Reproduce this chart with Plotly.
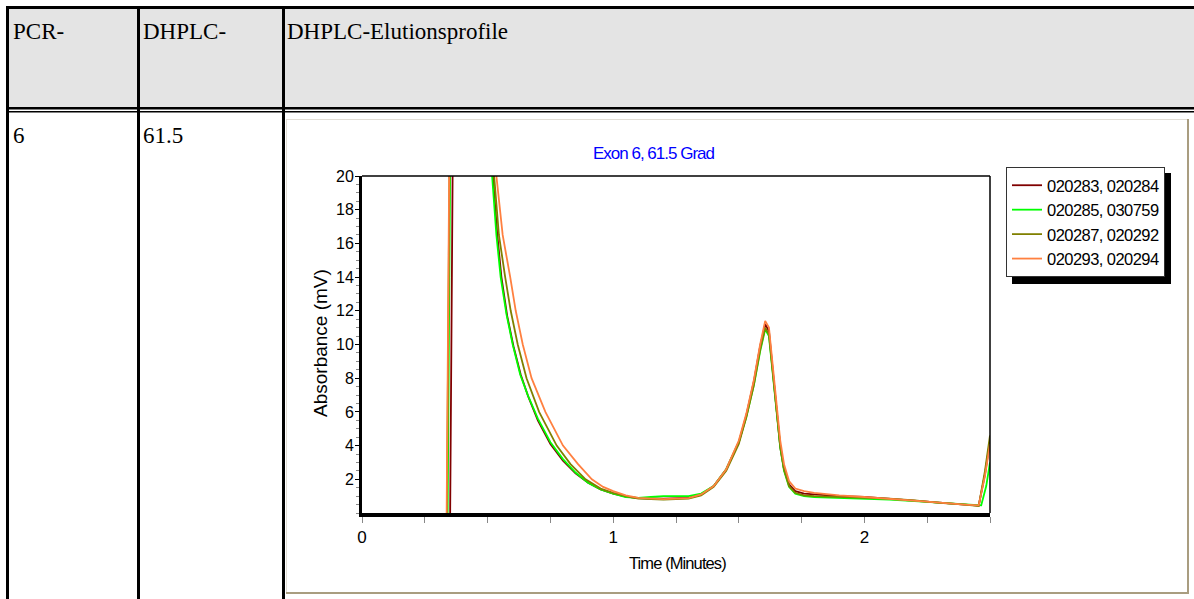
import plotly.graph_objects as go

# ---------------- data ----------------
names = ["020283, 020284", "020285, 030759", "020287, 020292", "020293, 020294"]
colors = ["#800000", "#00ff00", "#808000", "#ff8040"]

t_s1 = [0.351, 0.363, 0.380, 0.450, 0.495, 0.521, 0.538, 0.555, 0.578, 0.603, 0.632, 0.662, 0.700,
        0.750, 0.800, 0.850, 0.900, 0.950, 1.000, 1.050, 1.100, 1.200, 1.300, 1.350, 1.400, 1.450,
        1.500, 1.530, 1.560, 1.585, 1.605, 1.620, 1.635, 1.650, 1.665, 1.680, 1.700, 1.725, 1.760,
        1.800, 1.900, 2.000, 2.100, 2.200, 2.300, 2.400, 2.455, 2.480, 2.500]
v_s1 = [0.0, 24.0, 60.0, 60.0, 25.5, 20.0, 16.6, 14.0, 11.7, 9.9, 8.2, 6.9, 5.5,
        4.1, 3.1, 2.35, 1.8, 1.4, 1.15, 0.98, 0.88, 0.85, 0.9, 1.1, 1.6, 2.6,
        4.2, 5.8, 7.8, 9.9, 11.2, 10.8, 8.6, 6.1, 3.9, 2.6, 1.7, 1.3, 1.15,
        1.1, 1.0, 0.95, 0.85, 0.75, 0.62, 0.5, 0.44, 2.3, 4.3]

t_s2 = [0.341, 0.353, 0.370, 0.450, 0.490, 0.518, 0.535, 0.552, 0.575, 0.600, 0.630, 0.660, 0.700,
        0.750, 0.800, 0.850, 0.900, 0.950, 1.000, 1.050, 1.100, 1.150, 1.200, 1.250, 1.300, 1.350,
        1.400, 1.450, 1.500, 1.530, 1.560, 1.585, 1.605, 1.620, 1.635, 1.650, 1.665, 1.680, 1.700,
        1.725, 1.760, 1.800, 1.900, 2.000, 2.100, 2.200, 2.300, 2.400, 2.465, 2.485, 2.500]
v_s2 = [0.0, 24.0, 60.0, 60.0, 25.5, 20.0, 16.5, 14.0, 11.8, 10.0, 8.2, 7.0, 5.6,
        4.2, 3.2, 2.4, 1.8, 1.4, 1.15, 0.95, 0.9, 0.95, 1.0, 1.0, 1.0, 1.15,
        1.6, 2.6, 4.2, 5.7, 7.6, 9.6, 10.9, 10.5, 8.4, 6.0, 3.9, 2.5, 1.55,
        1.15, 1.0, 0.95, 0.9, 0.85, 0.8, 0.7, 0.6, 0.5, 0.45, 1.6, 3.0]

t_s3 = [0.338, 0.350, 0.368, 0.450, 0.498, 0.526, 0.545, 0.570, 0.592, 0.620, 0.655, 0.705, 0.775,
        0.830, 0.890, 0.950, 1.000, 1.050, 1.100, 1.200, 1.300, 1.350, 1.400, 1.450, 1.500, 1.530,
        1.560, 1.585, 1.605, 1.620, 1.635, 1.650, 1.665, 1.680, 1.700, 1.725, 1.760, 1.800, 1.900,
        2.000, 2.100, 2.200, 2.300, 2.400, 2.455, 2.480, 2.500]
v_s3 = [0.0, 24.0, 60.0, 60.0, 25.5, 20.0, 16.5, 14.0, 12.0, 10.0, 8.0, 6.0, 4.0,
        2.9, 2.0, 1.45, 1.2, 1.0, 0.85, 0.8, 0.85, 1.05, 1.55, 2.5, 4.1, 5.7,
        7.6, 9.7, 11.0, 10.6, 8.5, 6.1, 4.0, 2.6, 1.6, 1.2, 1.05, 1.0, 0.95,
        0.9, 0.85, 0.75, 0.6, 0.5, 0.42, 2.5, 4.6]

t_s4 = [0.337, 0.349, 0.367, 0.450, 0.510, 0.535, 0.560, 0.590, 0.612, 0.640, 0.675, 0.730, 0.800,
        0.860, 0.915, 0.960, 1.000, 1.050, 1.100, 1.200, 1.300, 1.350, 1.400, 1.450, 1.500, 1.530,
        1.560, 1.585, 1.605, 1.620, 1.635, 1.650, 1.665, 1.680, 1.700, 1.725, 1.760, 1.800, 1.900,
        2.000, 2.100, 2.200, 2.300, 2.400, 2.455, 2.480, 2.500]
v_s4 = [0.0, 24.0, 60.0, 60.0, 25.5, 20.0, 16.5, 14.0, 12.0, 10.0, 8.0, 6.0, 4.0,
        2.9, 2.0, 1.55, 1.3, 1.05, 0.9, 0.82, 0.88, 1.1, 1.6, 2.6, 4.3, 5.9,
        7.9, 10.0, 11.4, 11.0, 8.9, 6.5, 4.3, 2.9, 1.9, 1.45, 1.3, 1.2, 1.05,
        0.95, 0.85, 0.75, 0.62, 0.5, 0.45, 2.2, 4.1]

x_tickvals = [0, 1, 2]
y_tickvals = [2, 4, 6, 8, 10, 12, 14, 16, 18, 20]

header_texts = ["PCR-", "DHPLC-", "DHPLC-Elutionsprofile"]
row_texts = ["6", "61.5"]
chart_title = "Exon 6, 61.5 Grad"
x_title = "Time (Minutes)"
y_title = "Absorbance (mV)"

# ---------------- layout helpers (pixel -> paper) ----------------
W, H = 1194, 599
L, R, T, B = 362, 990, 176, 513


def px(x):
    return (x - L) / (R - L)


def py(y):
    return (B - y) / (B - T)


def tight(s, ls):
    return '<span style="letter-spacing:%spx">%s</span>' % (ls, s)


SANS = "Liberation Sans, Arial, sans-serif"
SERIF = "Liberation Serif, Times New Roman, serif"

fig = go.Figure()
series_t = [t_s1, t_s2, t_s3, t_s4]
series_v = [v_s1, v_s2, v_s3, v_s4]
for name, col, tt, vv in zip(names, colors, series_t, series_v):
    fig.add_trace(go.Scatter(x=tt, y=vv, mode="lines", name=tight(name, -0.55),
                             legendgroup=name, line=dict(color=col, width=1.8)))

shapes = []


def rect(x0, y0, x1, y1, fill, layer="below"):
    shapes.append(dict(type="rect", xref="paper", yref="paper",
                       x0=px(x0), x1=px(x1), y0=py(y1), y1=py(y0),
                       fillcolor=fill, line=dict(width=0), layer=layer))


# table
rect(9, 9, 1194, 107, "#e4e4e4")
rect(6, 6, 1194, 9, "black")
rect(6, 6, 9, 600, "black")
rect(137, 6, 140, 600, "black")
rect(282, 6, 285, 600, "black")
rect(6, 107, 1194, 109.6, "black")
rect(6, 111, 1194, 112.6, "black")
# inner chart frame
rect(286, 119, 1189, 120, "#e2ded6")
rect(286, 119, 287, 594, "#e2ded6")
rect(286, 592, 1189, 594, "#a99d80")
rect(1187, 119, 1189, 594, "#a99d80")
# legend shadow
rect(1012, 173, 1171, 284, "black", layer="above")
# thin top/right frame of plot
shapes.append(dict(type="line", xref="paper", yref="paper", x0=0, x1=1, y0=1, y1=1,
                   line=dict(color="black", width=1.5), layer="above"))
shapes.append(dict(type="line", xref="paper", yref="paper", x0=1, x1=1, y0=0, y1=1,
                   line=dict(color="black", width=1.5), layer="above"))

annotations = []


def text(s, x, y, size, font, color="black", xanchor="left", angle=0):
    annotations.append(dict(text=s, x=px(x), y=py(y), xref="paper", yref="paper",
                            xanchor=xanchor, yanchor="middle", showarrow=False,
                            textangle=angle, font=dict(family=font, size=size, color=color)))


for s, x in zip(header_texts, [11, 141, 285]):
    text(s, x, 32, 23, SERIF)
for s, x in zip(row_texts, [11, 141]):
    text(s, x, 136, 23, SERIF)
text(tight(chart_title, -1.0), 654, 153, 17, SANS, color="#0000ff", xanchor="center")
text(tight(x_title, -0.9), 677, 563, 16.5, SANS, xanchor="center")
text(y_title, 320, 343, 19, SANS, xanchor="center", angle=-90)

fig.update_layout(
    width=W, height=H,
    margin=dict(l=L, r=W - R, t=T, b=H - B, pad=0),
    paper_bgcolor="white", plot_bgcolor="white",
    showlegend=True,
    legend=dict(x=px(1006), y=py(167), xanchor="left", yanchor="top",
                bgcolor="white", bordercolor="#333333", borderwidth=1,
                font=dict(family=SANS, size=16.5, color="black"),
                tracegroupgap=0, itemwidth=30),
    shapes=shapes, annotations=annotations,
)
fig.update_xaxes(range=[0, 2.5], showgrid=False, zeroline=False,
                 showline=True, linewidth=4, linecolor="black",
                 ticks="outside", ticklen=6, tickcolor="#888888", tickwidth=1,
                 tickvals=x_tickvals, tickfont=dict(family=SANS, size=17, color="black"),
                 minor=dict(dtick=0.25, ticks="outside", ticklen=6, tickcolor="#888888",
                            tickwidth=1, showgrid=False))
fig.update_yaxes(range=[0, 20], showgrid=False, zeroline=False,
                 showline=True, linewidth=3, linecolor="black",
                 ticks="outside", ticklen=4, tickcolor="black", tickwidth=1,
                 ticklabelstandoff=-2,
                 tickvals=y_tickvals, tickfont=dict(family=SANS, size=16, color="black"),
                 minor=dict(dtick=0.5, ticks="outside", ticklen=3, tickcolor="#888888",
                            tickwidth=1, showgrid=False))

fig.write_html("out.html")
